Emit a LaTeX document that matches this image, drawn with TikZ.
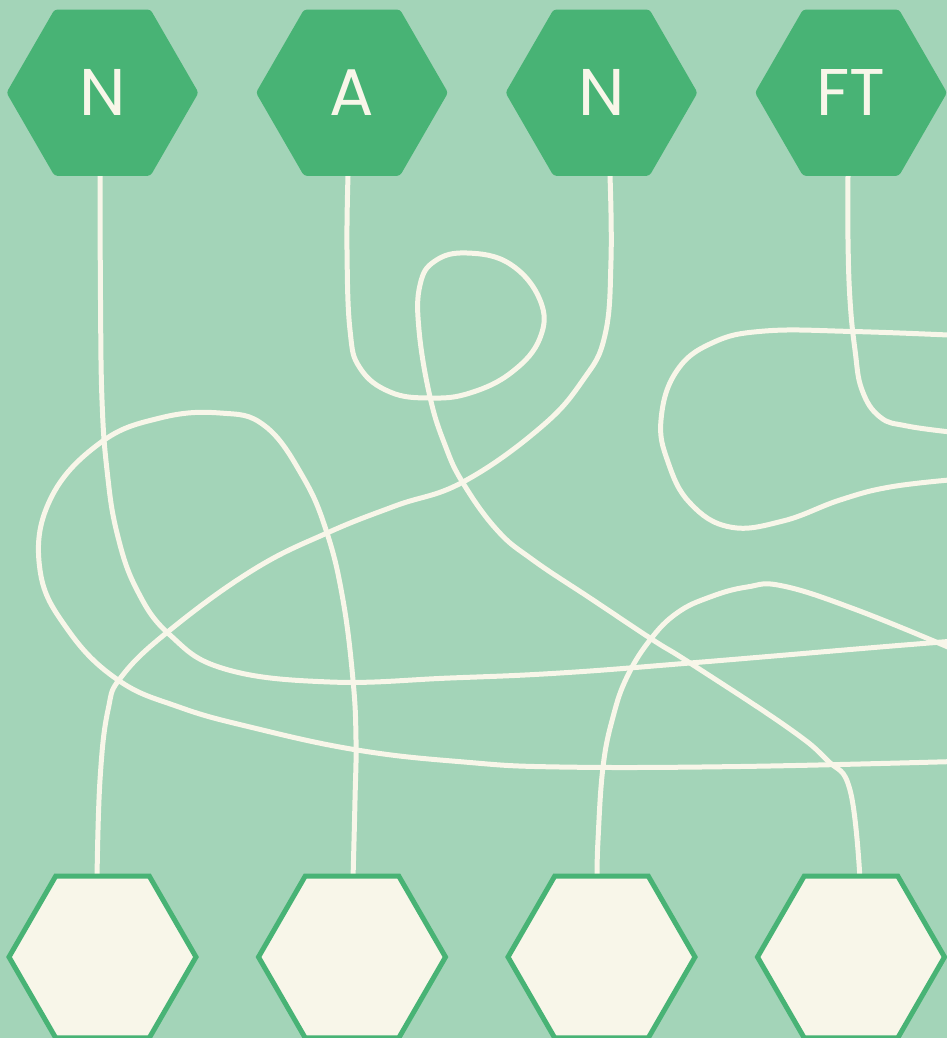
\documentclass[tikz,border=0pt]{standalone}
\usepackage{fontspec}
\setmainfont{Poppins}
\usetikzlibrary{shapes.geometric}
\definecolor{bg}{HTML}{A3D4B8}
\definecolor{hexg}{HTML}{48B375}
\definecolor{cream}{HTML}{F8F6E9}
\begin{document}
\begin{tikzpicture}[x=1pt,y=-1pt,
  tophex/.style={regular polygon, regular polygon sides=6, minimum size=192pt, inner sep=0pt, outer sep=0pt, fill=hexg, rounded corners=3pt, text=cream, font=\fontsize{66}{66}\selectfont},
  bothex/.style={regular polygon, regular polygon sides=6, minimum size=187pt, inner sep=0pt, outer sep=0pt, fill=cream, draw=hexg, line width=5pt},
  wire/.style={draw=cream, line width=5pt, smooth, tension=0.7}]
\fill[bg] (0,0) rectangle (947,1038);
\useasboundingbox (0,0) rectangle (947,1038);

% anchor nodes (invisible; hexagons are drawn on top later)
\path (102.5,92.7) node[tophex, fill=none, opacity=0] (t1) {}
      (352,92.7) node[tophex, fill=none, opacity=0] (t2) {}
      (601.5,92.7) node[tophex, fill=none, opacity=0] (t3) {}
      (851,92.7) node[tophex, fill=none, opacity=0] (t4) {}
      (102.5,957) node[bothex, draw=none, fill=none] (b1) {}
      (352,957) node[bothex, draw=none, fill=none] (b2) {}
      (601.5,957) node[bothex, draw=none, fill=none] (b3) {}
      (851,957) node[bothex, draw=none, fill=none] (b4) {};

\coordinate (sA) at ([xshift=-2.5pt]t1.south);
\coordinate (sB) at ([xshift=-4pt]t2.south);
\coordinate (sC) at ([xshift=8.5pt]t3.south);
\coordinate (sF) at ([xshift=-3pt]t4.south);
\coordinate (eC) at ([xshift=-5.5pt,yshift=-3pt]b1.north);
\coordinate (eD) at ([xshift=1pt,yshift=-3pt]b2.north);
\coordinate (eE) at ([xshift=-4.5pt,yshift=-3pt]b3.north);
\coordinate (eB) at ([xshift=9pt,yshift=-3pt]b4.north);
\coordinate (rA) at (955,641);
\coordinate (rD) at (955,761.5);
\coordinate (rE) at (955,650);
\coordinate (rF) at (955,432.5);
\coordinate (rG1) at (955,335.3);
\coordinate (rG2) at (955,479.5);

% A: top1 -> right edge
\draw[wire] plot coordinates {(sA) (100.5,300) (102,400) (107,470) (117,533) (137,590) (170,635) (225,669) (330,682) (450,678) (560,673) (690,663) (880,647) (rA)};
% B: top2 -> bottom4
\draw[wire] plot coordinates {(sB) (347,250) (350,330) (360,368) (390,392) (430,398) (470,393) (512,372) (540,338) (540,300) (510,264) (467,253) (435,261) (420,285) (419,330) (430,397) (445,445) (463,483) (497,530) (533,560) (593,600) (653,640) (690,663) (787,727) (827,760) (850,790) (eB)};
% C: top3 -> bottom1
\draw[wire] plot coordinates {(sC) (611,260) (605,335) (583,380) (540,428) (463,482) (395,506) (327,533) (253,570) (170,630) (122,676) (108,710) (100,780) (eC)};
% D: right edge -> bottom2
\draw[wire] plot coordinates {(rD) (740,766.5) (560,767) (464,762) (357,750) (250,727) (179,707) (118,680) (68,630) (40,570) (50,500) (100,443) (160,418) (220,413) (265,426) (303,477) (327,533) (343,600) (353,680) (356,740) (355,800) (eD)};
% E: bottom3 -> right edge
\draw[wire] plot coordinates {(eE) (598,840) (603,767) (613,717) (627,677) (650,640) (677,613) (710,597) (747,587) (783,586) (857,610) (rE)};
% F: top4 -> right edge
\draw[wire] plot coordinates {(sF) (848,240) (850,300) (855,350) (862,390) (880,417) (907,426) (rF)};
% G: right edge loop
\draw[wire] plot coordinates {(rG1) (853,331.5) (765,331) (712,343) (676,372) (661,420) (668,462) (690,503) (730,527) (783,521) (840,500) (890,487) (rG2)};

% hexagons on top
\node[tophex] (T1) at (t1) {N};
\node[tophex] (T2) at (t2) {A};
\node[tophex] (T3) at (t3) {N};
\node[tophex] (T4) at (t4) {FT};
\node[bothex] (B1) at (b1) {};
\node[bothex] (B2) at (b2) {};
\node[bothex] (B3) at (b3) {};
\node[bothex] (B4) at (b4) {};
\end{tikzpicture}
\end{document}
